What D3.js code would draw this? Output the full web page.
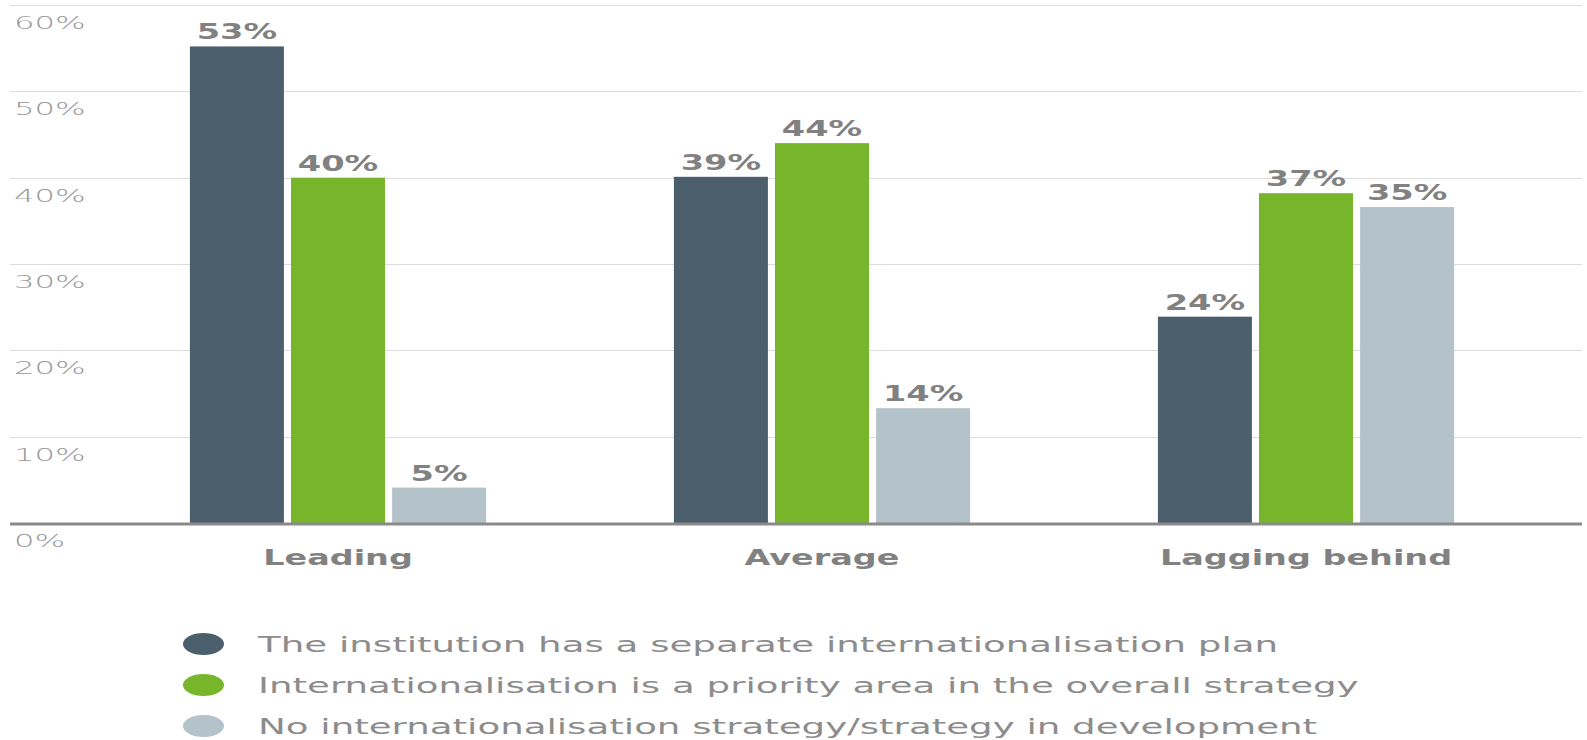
<!DOCTYPE html>
<html>
<head>
<meta charset="utf-8">
<script src="https://cdn.jsdelivr.net/npm/d3@7"></script>
<style>
    html, body { margin: 0; padding: 0; background: #fff; }
    svg { display: block; }
    text { font-family: "DejaVu Sans", sans-serif; }
</style>
</head>
<body>
<svg id="chart" width="1587" height="740"></svg>
<script>
/*************************************************
    Data:
 *************************************************/
var categories = ["Leading", "Average", "Lagging behind"];
var seriesNames = [
    "The institution has a separate internationalisation plan",
    "Internationalisation is a priority area in the overall strategy",
    "No internationalisation strategy/strategy in development"
];
var seriesColors = ["#4b5e6b", "#77b52a", "#b4c3ca"];
// bar heights as drawn in the picture, per series (Leading, Average, Lagging behind)
var separatePlan = [55.2, 40.1, 23.9];
var priorityArea = [40.0, 44.0, 38.2];
var noStrategy = [4.1, 13.3, 36.6];
// printed value labels
var separatePlanLabels = ["53%", "39%", "24%"];
var priorityAreaLabels = ["40%", "44%", "37%"];
var noStrategyLabels = ["5%", "14%", "35%"];
var yTicks = [0, 10, 20, 30, 40, 50, 60];

/*************************************************
    Setup:
 *************************************************/
var svg = d3.select("#chart");
var series = [separatePlan, priorityArea, noStrategy];
var labels = [separatePlanLabels, priorityAreaLabels, noStrategyLabels];

var y = d3.scaleLinear().domain([0, 60]).range([523, 5]);
var x0 = d3.scaleBand().domain(categories).range([96, 1548])
    .paddingInner(0.388).paddingOuter(0.194);
var x1 = d3.scaleBand().domain(d3.range(series.length))
    .range([0, x0.bandwidth()]).paddingInner(0.07);

// the original artwork is stretched sideways, so text gets a horizontal scale
function stretchedText(sel, px, py, sx) {
    return sel.append("text")
        .attr("transform", "translate(" + px + "," + py + ") scale(" + sx + ",1)");
}

/*************************************************
    Grid and axis:
 *************************************************/
var grid = svg.append("g");
grid.selectAll("line").data(yTicks.filter(function(d) { return d > 0; }))
    .enter().append("line")
    .attr("x1", 10).attr("x2", 1582)
    .attr("y1", function(d) { return Math.round(y(d)) + 0.5; })
    .attr("y2", function(d) { return Math.round(y(d)) + 0.5; })
    .attr("stroke", "#dcdcdc").attr("stroke-width", 1);

yTicks.forEach(function(t) {
    stretchedText(svg, 14, y(t) + 24, 1.9)
        .text(t + "%")
        .attr("font-size", 17)
        .attr("font-weight", 200)
        .attr("fill", "#999999");
});

/*************************************************
    Bars:
 *************************************************/
series.forEach(function(values, si) {
    var g = svg.append("g");
    g.selectAll("rect").data(values).enter().append("rect")
        .attr("x", function(d, i) { return x0(categories[i]) + x1(si); })
        .attr("y", function(d) { return y(d); })
        .attr("width", x1.bandwidth())
        .attr("height", function(d) { return y(0) - y(d); })
        .attr("fill", seriesColors[si]);

    values.forEach(function(v, i) {
        var cx = x0(categories[i]) + x1(si) + x1.bandwidth() / 2;
        stretchedText(svg, cx, y(v) - 7, 1.6)
            .text(labels[si][i])
            .attr("text-anchor", "middle")
            .attr("font-size", 21)
            .attr("font-weight", "bold")
            .attr("fill", "#818181");
    });
});

svg.append("line")
    .attr("x1", 10).attr("x2", 1582)
    .attr("y1", y(0) + 1).attr("y2", y(0) + 1)
    .attr("stroke", "#8a8a8a").attr("stroke-width", 3);

categories.forEach(function(c) {
    stretchedText(svg, x0(c) + x0.bandwidth() / 2, 565, 1.52)
        .text(c)
        .attr("text-anchor", "middle")
        .attr("font-size", 22)
        .attr("font-weight", "bold")
        .attr("fill", "#818181");
});

/*************************************************
    Legend:
 *************************************************/
var legend = svg.append("g");
seriesNames.forEach(function(name, i) {
    var cy = 644 + i * 41;
    legend.append("ellipse")
        .attr("cx", 203.5).attr("cy", cy)
        .attr("rx", 20.5).attr("ry", 11)
        .attr("fill", seriesColors[i]);
    stretchedText(legend, 258, cy + 8, 1.77)
        .text(name)
        .attr("font-size", 21)
        .attr("fill", "#8c8c8c");
});
</script>
</body>
</html>
